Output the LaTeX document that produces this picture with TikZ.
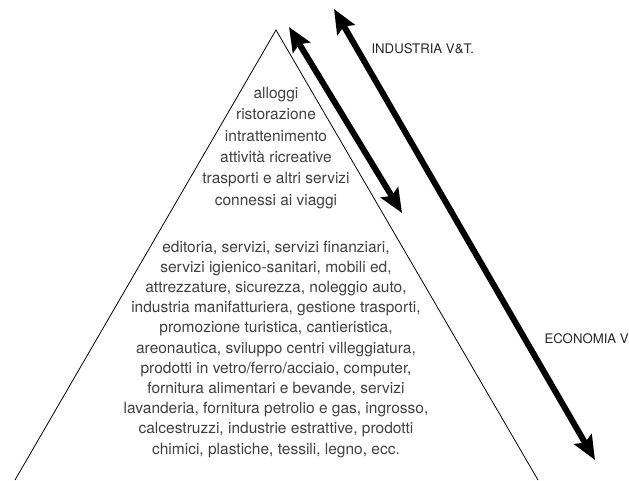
\documentclass[tikz,border=0pt]{standalone}
\usepackage{fontspec}
\setmainfont{TeX Gyre Heros}
\usetikzlibrary{arrows.meta}

\tikzset{
  side/.style={line width=0.8pt},
  bigarrow/.style={line width=6pt,
    {Stealth[length=24pt,width=20pt,inset=4pt]}-{Stealth[length=24pt,width=20pt,inset=4pt]}},
  upperblock/.style={align=center,text=black!75,font=\fontsize{15.5}{21.4}\selectfont},
  lowerblock/.style={align=center,text=black!75,font=\fontsize{15.5}{20.2}\selectfont},
  sidelabel/.style={anchor=base west,text=black!85,font=\fontsize{13.2}{15}\selectfont}
}

\begin{document}
\begin{tikzpicture}[x=1pt,y=-1pt]
  \useasboundingbox (0,0) rectangle (629,480);
  % pyramid
  \coordinate (apex) at (276,30);
  \coordinate (baseleft) at (15,480);
  \coordinate (baseright) at (538,480);
  \draw [side](baseleft)--(apex)--(baseright);
  % contents
  \node [upperblock] (turismo) at (276,147.8)
    {alloggi\\ristorazione\\intrattenimento\\attività ricreative\\trasporti e altri servizi\\connessi ai viaggi};
  \node [lowerblock] (indotto) at (276,349.2)
    {editoria, servizi, servizi finanziari,\\servizi igienico-sanitari, mobili ed,\\attrezzature, sicurezza, noleggio auto,\\industria manifatturiera, gestione trasporti,\\promozione turistica, cantieristica,\\areonautica, sviluppo centri villeggiatura,\\prodotti in vetro/ferro/acciaio, computer,\\fornitura alimentari e bevande, servizi\\lavanderia, fornitura petrolio e gas, ingrosso,\\calcestruzzi, industrie estrattive, prodotti\\chimici, plastiche, tessili, legno, ecc.};
  % arrows
  \coordinate (indtop) at (289,27);
  \coordinate (indbot) at (402,213);
  \coordinate (ecotop) at (334,9);
  \coordinate (ecobot) at (595,460);
  \draw [bigarrow](indtop)--(indbot);
  \draw [bigarrow](ecotop)--(ecobot);
  \node [sidelabel] (industria) at (368,53.3){INDUSTRIA V\&T.};
  \node [sidelabel] (economia) at (541,343.3){ECONOMIA V};
\end{tikzpicture}
\end{document}
